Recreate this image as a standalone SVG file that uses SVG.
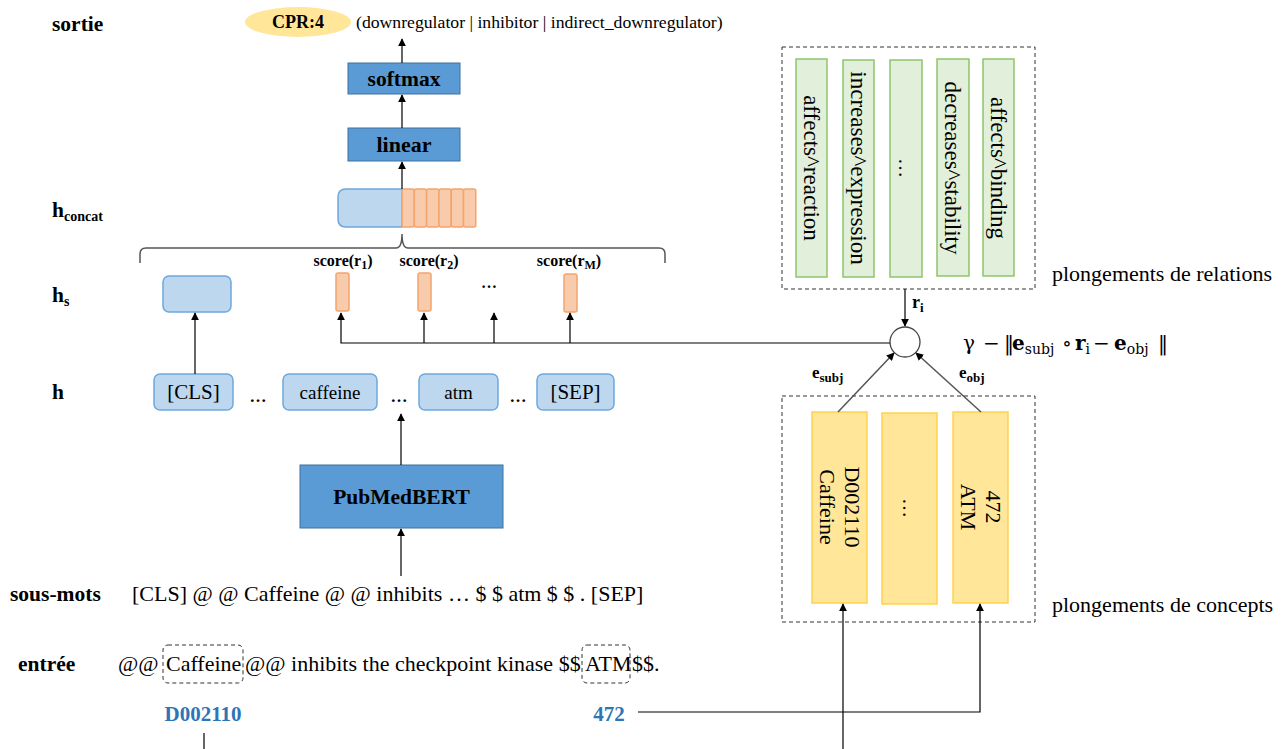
<svg xmlns="http://www.w3.org/2000/svg" width="1283" height="749" viewBox="0 0 1283 749">
<defs>
<marker id="ah" viewBox="0 0 10 10" refX="9" refY="5" markerWidth="8" markerHeight="8" markerUnits="userSpaceOnUse" orient="auto">
<path d="M0,0 L10,5 L0,10 z" fill="#000"/>
</marker>
<style>
text{font-family:"Liberation Serif","Times New Roman",serif;fill:#000}
.lbl{font-size:21.5px;font-weight:bold}
.t{font-size:22px}
.b{font-weight:bold}
.dark{fill:#5b9bd5;stroke:#41719c;stroke-width:1}
.light{fill:#bdd7ee;stroke:#6fa8dc;stroke-width:1.5}
.or{fill:#f8cbad;stroke:#f4a46c;stroke-width:1.5}
.gr{fill:#e2efda;stroke:#8dc56a;stroke-width:1.5}
.ye{fill:#ffe699;stroke:#ffd24d;stroke-width:1.5}
.dash{fill:none;stroke:#333;stroke-width:1;stroke-dasharray:4,3}
.ln{fill:none;stroke:#000;stroke-width:1.2}
.gl{fill:none;stroke:#555;stroke-width:1.5}
.blue{fill:#2e75b6;font-weight:bold;font-size:21px}
.mid{text-anchor:middle}
.sc{font-size:16px;font-weight:bold}
.fm{font-family:"DejaVu Serif","Liberation Serif",serif;font-size:20px}
</style>
</defs>

<g id="labels">
<text class="lbl" x="52" y="31">sortie</text>
<text class="lbl" x="52" y="217">h<tspan font-size="14" dy="4">concat</tspan></text>
<text class="lbl" x="52" y="302">h<tspan font-size="14" dy="4">s</tspan></text>
<text class="lbl" x="52" y="399">h</text>
<text class="lbl" x="10" y="601">sous-mots</text>
<text class="lbl" x="18" y="671">entrée</text>
</g>

<g id="output">
<ellipse cx="298" cy="22" rx="53" ry="15" fill="#ffe699"/>
<text class="mid b" x="298" y="28" font-size="18">CPR:4</text>
<text x="356" y="28" font-size="17.7">(downregulator | inhibitor | indirect_downregulator)</text>
</g>

<g id="softmax">
<rect class="dark" x="348" y="63" width="112" height="31"/>
<text class="mid b" x="404" y="86" font-size="21.5">softmax</text>
</g>

<g id="linear">
<rect class="dark" x="348" y="128" width="112" height="33"/>
<text class="mid b" x="404" y="152" font-size="22">linear</text>
</g>

<g id="hconcat">
<path class="light" d="M402,189 L346,189 Q338,189 338,197 L338,219 Q338,227 346,227 L402,227 z"/>
<rect class="or" x="402" y="189" width="12.3" height="38" rx="2"/>
<rect class="or" x="414.3" y="189" width="12.3" height="38" rx="2"/>
<rect class="or" x="426.6" y="189" width="12.3" height="38" rx="2"/>
<rect class="or" x="438.9" y="189" width="12.3" height="38" rx="2"/>
<rect class="or" x="451.2" y="189" width="12.3" height="38" rx="2"/>
<rect class="or" x="463.5" y="189" width="12.3" height="38" rx="2"/>
</g>

<g id="brace">
<path class="gl" d="M140,263 L140,254 Q140,248 146,248 L396,248 Q402,248 402,234 Q402,248 408,248 L659,248 Q665,248 665,254 L665,263"/>
</g>

<g id="hs">
<rect class="light" x="163" y="276" width="68" height="36" rx="6"/>
<rect class="or" x="336" y="273" width="13" height="38" rx="2"/>
<rect class="or" x="418" y="273" width="13" height="38" rx="2"/>
<rect class="or" x="564" y="274" width="13" height="38" rx="2"/>
<text class="mid b" x="489" y="288" font-size="16">…</text>
<text class="sc mid" x="343" y="266">score(r<tspan font-size="12" dy="3">1</tspan><tspan dy="-3">)</tspan></text>
<text class="sc mid" x="429" y="266">score(r<tspan font-size="12" dy="3">2</tspan><tspan dy="-3">)</tspan></text>
<text class="sc mid" x="569" y="266">score(r<tspan font-size="12" dy="3">M</tspan><tspan dy="-3">)</tspan></text>
</g>

<g id="h">
<rect class="light" x="154" y="374" width="79" height="36" rx="6"/>
<text class="mid" x="193.5" y="399" font-size="21">[CLS]</text>
<text class="mid b" x="258" y="402" font-size="17">…</text>
<rect class="light" x="283" y="374" width="94" height="36" rx="6"/>
<text class="mid" x="330" y="399" font-size="19">caffeine</text>
<text class="mid b" x="399" y="402" font-size="17">…</text>
<rect class="light" x="419" y="374" width="79" height="36" rx="6"/>
<text class="mid" x="458.5" y="399" font-size="19">atm</text>
<text class="mid b" x="518" y="402" font-size="17">…</text>
<rect class="light" x="537" y="374" width="77" height="36" rx="6"/>
<text class="mid" x="575.5" y="399" font-size="21">[SEP]</text>
</g>

<g id="pubmedbert">
<rect class="dark" x="300" y="465" width="203" height="63"/>
<text class="mid b" x="401.5" y="504" font-size="21.5">PubMedBERT</text>
</g>

<g id="subwords">
<text class="t" x="132" y="601">[CLS] @ @ Caffeine @ @ inhibits … $ $ atm $ $ . [SEP]</text>
</g>

<g id="input">
<text class="t" x="118" y="671">@@<tspan x="166">Caffeine</tspan><tspan x="245">@@ inhibits the checkpoint kinase $$</tspan><tspan x="585">ATM</tspan><tspan x="632">$$.</tspan></text>
<rect class="dash" x="163" y="645" width="80" height="38" rx="5"/>
<rect class="dash" x="582" y="645" width="48" height="38" rx="5"/>
<text class="blue mid" x="203" y="721">D002110</text>
<text class="blue mid" x="609" y="721">472</text>
</g>

<g id="relations">
<rect class="dash" x="782" y="47" width="253" height="242"/>
<rect class="gr" x="796" y="59" width="31" height="218"/>
<rect class="gr" x="843" y="60" width="31" height="217"/>
<rect class="gr" x="890" y="60" width="32" height="217"/>
<rect class="gr" x="937" y="59" width="32" height="217"/>
<rect class="gr" x="983" y="59" width="31" height="217"/>
<text class="mid" font-size="23" transform="translate(811.5,168) rotate(90)" dy="8">affects^reaction</text>
<text class="mid" font-size="23" transform="translate(858.5,168) rotate(90)" dy="8">increases^expression</text>
<text class="mid" font-size="20" transform="translate(906,168) rotate(90)" dy="7">…</text>
<text class="mid" font-size="23" transform="translate(953,168) rotate(90)" dy="8">decreases^stability</text>
<text class="mid" font-size="23" transform="translate(998.5,168) rotate(90)" dy="8">affects^binding</text>
<text x="1052" y="281" font-size="22">plongements de relations</text>
</g>

<g id="concepts">
<rect class="dash" x="782" y="396" width="253" height="226"/>
<rect class="ye" x="812" y="412" width="55" height="191"/>
<rect class="ye" x="882" y="413" width="55" height="191"/>
<rect class="ye" x="953" y="412" width="55" height="191"/>
<text class="mid" font-size="22" transform="translate(839.5,507) rotate(90)"><tspan x="0" dy="-5">D002110</tspan><tspan x="0" dy="25">Caffeine</tspan></text>
<text class="mid" font-size="20" transform="translate(909.5,508) rotate(90)" dy="7">…</text>
<text class="mid" font-size="22" transform="translate(980.5,507) rotate(90)"><tspan x="0" dy="-5">472</tspan><tspan x="0" dy="25">ATM</tspan></text>
<text x="1052" y="612" font-size="22">plongements de concepts</text>
</g>

<g id="scorer">
<circle cx="905" cy="342" r="15" fill="#fff" stroke="#444" stroke-width="1.3"/>
<text class="fm" x="963" y="350">γ<tspan x="983">−</tspan><tspan x="1004">‖</tspan><tspan x="1012" font-weight="bold">e</tspan><tspan font-size="14" dy="4">subj</tspan><tspan x="1062" dy="-4">∘</tspan><tspan x="1075" font-weight="bold">r</tspan><tspan font-size="14" dy="4">i</tspan><tspan x="1093" dy="-4">−</tspan><tspan x="1114" font-weight="bold">e</tspan><tspan font-size="14" dy="4">obj</tspan><tspan x="1158" dy="-4">‖</tspan></text>
<text class="b" x="912" y="308" font-size="18">r<tspan font-size="13" dy="4">i</tspan></text>
<text class="b" x="812" y="378" font-size="17">e<tspan font-size="13" dy="4">subj</tspan></text>
<text class="b" x="959" y="378" font-size="17">e<tspan font-size="13" dy="4">obj</tspan></text>
</g>

<g id="connectors">
<line class="ln" x1="402" y1="63" x2="402" y2="39" marker-end="url(#ah)"/>
<line class="ln" x1="402" y1="128" x2="402" y2="95" marker-end="url(#ah)"/>
<line class="ln" x1="402" y1="189" x2="402" y2="162" marker-end="url(#ah)"/>
<line class="ln" x1="195" y1="374" x2="195" y2="313" marker-end="url(#ah)"/>
<line class="ln" x1="401" y1="465" x2="401" y2="414" marker-end="url(#ah)"/>
<line class="ln" x1="401" y1="576" x2="401" y2="529" marker-end="url(#ah)"/>
<polyline class="ln" points="890,343 341,343 341,313" marker-end="url(#ah)"/>
<line class="ln" x1="424" y1="343" x2="424" y2="313" marker-end="url(#ah)"/>
<line class="ln" x1="494" y1="343" x2="494" y2="313" marker-end="url(#ah)"/>
<line class="ln" x1="570" y1="343" x2="570" y2="313" marker-end="url(#ah)"/>
<line class="ln" x1="905" y1="289" x2="905" y2="326" marker-end="url(#ah)"/>
<line class="gl" x1="838" y1="412" x2="894" y2="353" stroke="#444" marker-end="url(#ah)"/>
<line class="gl" x1="981" y1="412" x2="916" y2="353" stroke="#444" marker-end="url(#ah)"/>
<line class="ln" x1="843" y1="749" x2="843" y2="604" marker-end="url(#ah)"/>
<polyline class="ln" points="638,712 980,712 980,604" marker-end="url(#ah)"/>
<line class="ln" x1="204" y1="733" x2="204" y2="749"/>
</g>
</svg>
